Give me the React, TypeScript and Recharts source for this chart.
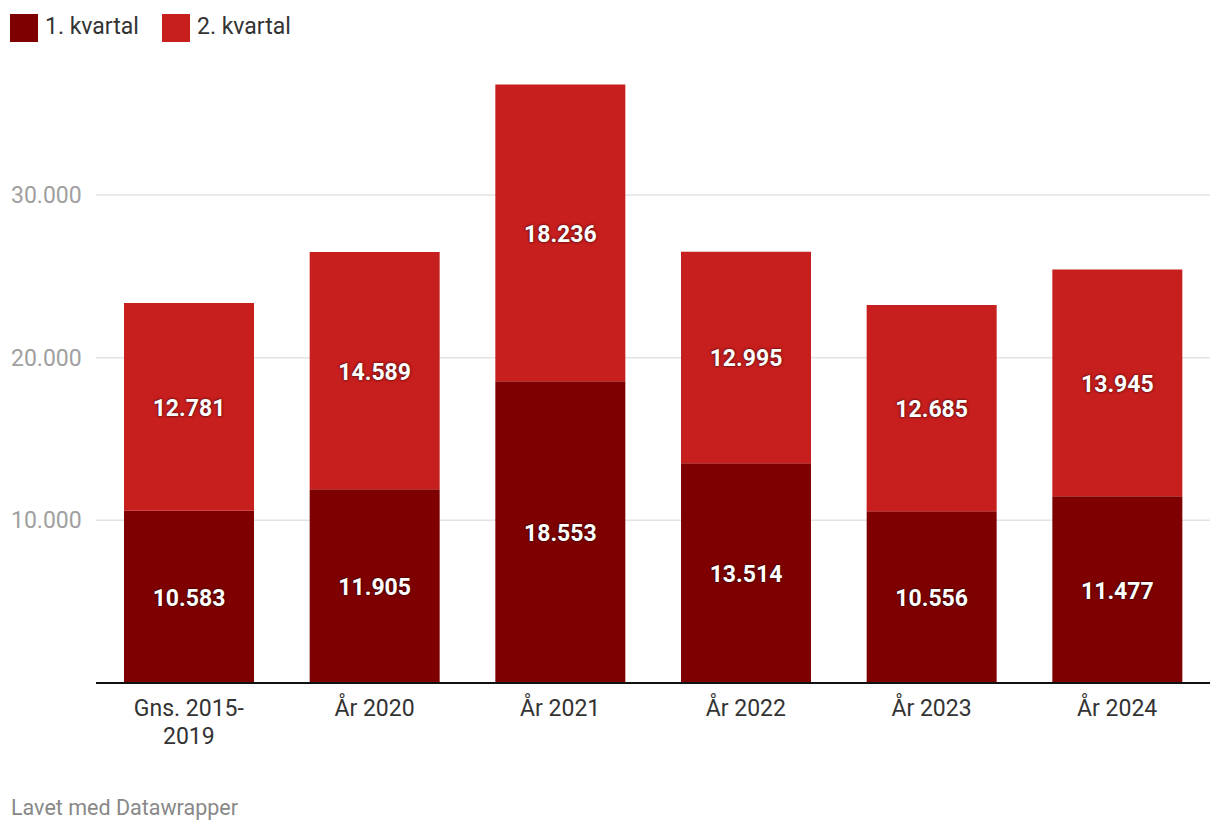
import React from 'react';
import { BarChart, Bar, XAxis, YAxis, CartesianGrid, LabelList } from 'recharts';

const categories = ['Gns. 2015-2019', 'År 2020', 'År 2021', 'År 2022', 'År 2023', 'År 2024'];
const q1Values = [10583, 11905, 18553, 13514, 10556, 11477];
const q2Values = [12781, 14589, 18236, 12995, 12685, 13945];
const yTicks = [10000, 20000, 30000];
const seriesNames = ['1. kvartal', '2. kvartal'];

const DARK = '#7f0000';
const LIGHT = '#c71e1e';
const FONT = 'Roboto, sans-serif';

const data = categories.map((c, i) => ({ name: c, q1: q1Values[i], q2: q2Values[i] }));

const fmt = (v: number) => String(Math.round(v)).replace(/\B(?=(\d{3})+(?!\d))/g, '.');

const YTick = (props: any) => {
  const { y, payload } = props;
  return (
    <text x={11} y={y} dy={8} textAnchor="start" fill="#a0a0a0" fontSize={23} fontFamily={FONT}>
      {fmt(payload.value)}
    </text>
  );
};

const XTick = (props: any) => {
  const { x, y, payload } = props;
  const s: string = payload.value;
  const lines = s.includes('-') ? [s.slice(0, s.indexOf('-') + 1), s.slice(s.indexOf('-') + 1)] : [s];
  return (
    <text x={x} y={y} textAnchor="middle" fill="#333" fontSize={23} fontFamily={FONT}>
      {lines.map((l, i) => (
        <tspan key={i} x={x} y={y + 33 + i * 28}>{l}</tspan>
      ))}
    </text>
  );
};

const BarLabel = (props: any) => {
  const { x, y, width, height, value } = props;
  return (
    <text
      x={x + width / 2}
      y={y + height / 2}
      dy={9}
      textAnchor="middle"
      fill="#fff"
      fontSize={23}
      fontWeight={700}
      fontFamily={FONT}
      style={{ textShadow: '0 0 3px rgba(0,0,0,0.55), 0 0 2px rgba(0,0,0,0.4)' }}
    >
      {fmt(value)}
    </text>
  );
};

export default function App() {
  const colors = [DARK, LIGHT];
  const legendX = [10, 162];
  return (
    <div style={{ position: 'absolute', left: 0, top: 0, width: 1220, height: 834, background: '#fff', fontFamily: FONT }}>
      <BarChart
        width={1220}
        height={834}
        data={data}
        margin={{ top: 32.3, right: 10, left: 0, bottom: 0 }}
        style={{ position: 'absolute', left: 0, top: 0 }}
      >
        <CartesianGrid vertical={false} stroke="#e3e3e3" strokeWidth={1.5} syncWithTicks />
        <YAxis
          width={96}
          domain={[0, 40000]}
          ticks={yTicks}
          axisLine={false}
          tickLine={false}
          tick={<YTick />}
        />
        <XAxis
          dataKey="name"
          height={151}
          tickLine={false}
          tickSize={0}
          tickMargin={0}
          axisLine={{ stroke: '#111', strokeWidth: 2 }}
          tick={<XTick />}
          interval={0}
        />
        <Bar dataKey="q1" stackId="a" fill={DARK} barSize={130} isAnimationActive={false}>
          <LabelList dataKey="q1" content={<BarLabel />} />
        </Bar>
        <Bar dataKey="q2" stackId="a" fill={LIGHT} barSize={130} isAnimationActive={false}>
          <LabelList dataKey="q2" content={<BarLabel />} />
        </Bar>
      </BarChart>
      {seriesNames.map((n, i) => (
        <div key={n} style={{ position: 'absolute', left: legendX[i], top: 14, height: 28 }}>
          <div style={{ width: 28, height: 28, background: colors[i] }} />
          <span style={{ position: 'absolute', left: 35, top: -1, fontSize: 23, lineHeight: '28px', color: '#333', whiteSpace: 'nowrap' }}>{n}</span>
        </div>
      ))}
      <div style={{ position: 'absolute', left: 11, top: 795, fontSize: 21.5, lineHeight: '26px', color: '#888', whiteSpace: 'nowrap' }}>
        Lavet med Datawrapper
      </div>
    </div>
  );
}
